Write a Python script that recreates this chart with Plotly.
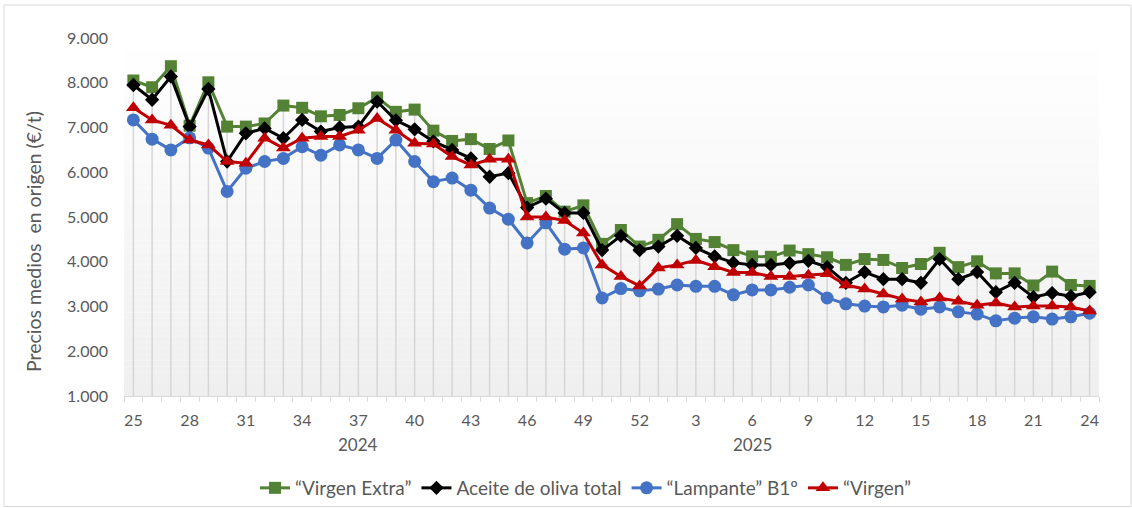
import plotly.graph_objects as go

weeks = ["25", "26", "27", "28", "29", "30", "31", "32", "33", "34", "35", "36", "37", "38",
         "39", "40", "41", "42", "43", "44", "45", "46", "47", "48", "49", "50", "51", "52",
         "1", "2", "3", "4", "5", "6", "7", "8", "9", "10", "11", "12", "13", "14", "15", "16",
         "17", "18", "19", "20", "21", "22", "23", "24"]
years = ["2024", "2025"]
year_label_pos = [12, 33]

virgen_extra = [8050, 7900, 8370, 7040, 8010, 7020, 7020, 7090, 7490, 7440, 7250, 7280, 7430, 7670,
                7350, 7400, 6930, 6700, 6740, 6520, 6710, 5310, 5470, 5120, 5260, 4400, 4710, 4340,
                4490, 4840, 4510, 4440, 4260, 4120, 4110, 4250, 4170, 4100, 3930, 4060, 4040, 3860,
                3950, 4200, 3880, 4010, 3740, 3740, 3470, 3780, 3480, 3460]
aceite_total = [7950, 7620, 8140, 7020, 7860, 6240, 6870, 6980, 6760, 7170, 6910, 7000, 7020, 7580,
                7160, 6960, 6690, 6500, 6310, 5900, 5980, 5210, 5410, 5090, 5090, 4260, 4580, 4260,
                4340, 4580, 4310, 4120, 3980, 3930, 3930, 3970, 4020, 3880, 3530, 3770, 3610, 3610,
                3530, 4060, 3610, 3770, 3320, 3530, 3210, 3300, 3230, 3320]
lampante = [7170, 6740, 6500, 6770, 6540, 5570, 6090, 6240, 6310, 6570, 6380, 6610, 6500, 6310,
            6720, 6240, 5790, 5870, 5600, 5200, 4950, 4420, 4870, 4280, 4310, 3190, 3400, 3350,
            3390, 3480, 3450, 3450, 3260, 3370, 3370, 3430, 3480, 3190, 3060, 3010, 2990, 3030,
            2940, 2990, 2880, 2830, 2680, 2740, 2770, 2720, 2770, 2850]
virgen = [7440, 7170, 7050, 6720, 6610, 6240, 6200, 6760, 6540, 6760, 6800, 6800, 6940, 7200,
          6940, 6650, 6630, 6350, 6160, 6290, 6290, 5000, 5000, 4920, 4640, 3930, 3670, 3460,
          3860, 3930, 4030, 3890, 3760, 3760, 3670, 3670, 3700, 3730, 3480, 3390, 3280, 3170,
          3100, 3190, 3120, 3030, 3080, 2990, 3010, 3010, 2990, 2900]

series = [
    ("\u201cVirgen Extra\u201d", virgen_extra, "#548235", "square", 12),
    ("Aceite de oliva total", aceite_total, "#000000", "diamond", 11),
    ("\u201cLampante\u201d B1\u00ba", lampante, "#4472C4", "circle", 13),
    ("\u201cVirgen\u201d", virgen, "#C00000", "triangle-up", 13),
]

y_min, y_max = 1000, 9000
idx = list(range(len(weeks)))

W, H = 1132, 508
L, R, T, B = 124, 33, 38, 112
pw = W - L - R
ph = H - T - B

def px_x(p):
    return (p - L) / pw

def px_y(p):
    return (H - B - p) / ph

fig = go.Figure()

# drop lines from highest point to the axis
dx, dy = [], []
for i in idx:
    top = max(s[1][i] for s in series)
    dx += [i, i, None]
    dy += [top, y_min, None]
fig.add_trace(go.Scatter(x=dx, y=dy, mode="lines", line=dict(color="#d6d6d6", width=1.5),
                         showlegend=False, hoverinfo="skip"))

for name, vals, col, sym, sz in series:
    fig.add_trace(go.Scatter(
        x=idx, y=vals, name=name, mode="lines+markers",
        line=dict(color=col, width=3),
        marker=dict(symbol=sym, size=sz, color=col, line=dict(width=0)),
    ))

# gradient background for plot area
shapes = []
n = 60
for k in range(n):
    t = k / (n - 1)
    c = int(round(255 - (255 - 239) * t))
    shapes.append(dict(type="rect", xref="paper", yref="paper", x0=0, x1=1,
                       y0=1 - (k + 1) / n, y1=1 - k / n, layer="below",
                       fillcolor=f"rgb({c},{c},{c})", line=dict(width=0)))
# chart border
shapes.append(dict(type="rect", xref="paper", yref="paper",
                   x0=px_x(4), x1=px_x(1131), y0=px_y(506.5), y1=px_y(5),
                   line=dict(color="#d9d9d9", width=1), fillcolor="rgba(0,0,0,0)", layer="below"))

font_family = "Lato, 'Open Sans', sans-serif"
grey = "#595959"

annotations = []
for yr, pos in zip(years, year_label_pos):
    annotations.append(dict(text=yr, x=pos, xref="x", y=px_y(444), yref="paper",
                            showarrow=False, xanchor="center", yanchor="middle",
                            font=dict(family=font_family, size=17, color=grey)))
annotations.append(dict(text="Precios medios  en origen (\u20ac/t)", x=px_x(34), xref="paper",
                        y=px_y(242), yref="paper", textangle=-90, showarrow=False,
                        xanchor="center", yanchor="middle",
                        font=dict(family=font_family, size=19.5, color=grey)))

fig.update_layout(
    width=W, height=H,
    margin=dict(l=L, r=R, t=T, b=B, autoexpand=False),
    paper_bgcolor="white", plot_bgcolor="rgba(0,0,0,0)",
    separators=",.",
    shapes=shapes, annotations=annotations,
    font=dict(family=font_family, color=grey, size=16),
    legend=dict(orientation="h", x=px_x(586), xanchor="center", y=px_y(488), yanchor="middle",
                font=dict(family=font_family, size=19, color=grey),
                itemwidth=30, tracegroupgap=0, bgcolor="rgba(0,0,0,0)"),
    showlegend=True,
)
fig.update_xaxes(
    range=[-0.5, len(weeks) - 0.5],
    tickvals=idx[::3], ticktext=weeks[::3],
    ticks="", showgrid=False, zeroline=False,
    showline=True, linecolor="#d9d9d9", linewidth=1,
    tickfont=dict(family=font_family, size=16, color=grey),
    ticklabelstandoff=10,
    minor=dict(ticks="outside", ticklen=5, tickcolor="#d9d9d9", tick0=-0.5, dtick=1, showgrid=False),
)
fig.update_yaxes(
    range=[y_min, y_max], dtick=1000, tickformat=",d",
    showgrid=False, zeroline=False, showline=False, ticks="",
    tickfont=dict(family=font_family, size=16, color=grey),
    ticklabelstandoff=15,
)

fig.write_html("out.html", post_script="document.body.style.margin='0';",
               config={"displayModeBar": False})
